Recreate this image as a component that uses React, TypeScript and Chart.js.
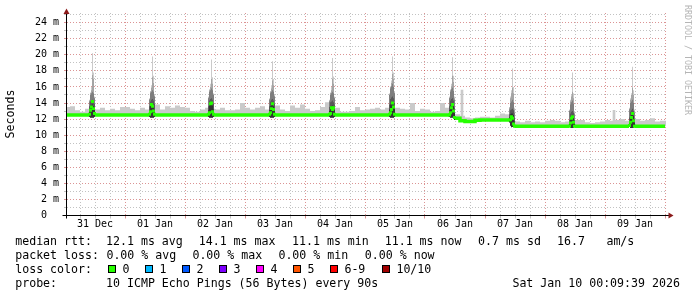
import React, { useEffect, useRef } from 'react';
import { Chart, registerables } from 'chart.js';

Chart.register(...registerables);

// ---------- data (time in hours since 31 Dec 00:00, latency in ms) ----------
const dayLabels = ['31 Dec', '01 Jan', '02 Jan', '03 Jan', '04 Jan', '05 Jan', '06 Jan', '07 Jan', '08 Jan', '09 Jan'];
const xStartHour = 0.8;
const xEndHour = 240.4;
const yMaxMs = 25.2;
const baseStepHours = 2;
const spikeStepHours = 0.4;

// median rtt, one value every 2 hours
const baseMedian = [
  12.5, 12.5, 12.5, 12.5, 12.5, 12.5, 12.5, 12.5, 12.5, 12.5, 12.5, 12.5,
  12.5, 12.5, 12.5, 12.5, 12.5, 12.5, 12.5, 12.5, 12.5, 12.5, 12.5, 12.5,
  12.5, 12.5, 12.5, 12.5, 12.5, 12.5, 12.5, 12.5, 12.5, 12.5, 12.5, 12.5,
  12.5, 12.5, 12.5, 12.5, 12.5, 12.5, 12.5, 12.5, 12.5, 12.5, 12.5, 12.5,
  12.5, 12.5, 12.5, 12.5, 12.5, 12.5, 12.5, 12.5, 12.5, 12.5, 12.5, 12.5,
  12.5, 12.5, 12.5, 12.5, 12.5, 12.5, 12.5, 12.5, 12.5, 12.5, 12.5, 12.5,
  12.5, 12.5, 12.5, 12.5, 12.5, 12.5, 12.1, 11.8, 11.7, 11.7, 11.85, 11.9,
  11.9, 11.9, 11.9, 11.9, 11.9, 11.1, 11.1, 11.1, 11.1, 11.1, 11.1, 11.1,
  11.1, 11.1, 11.1, 11.1, 11.1, 11.1, 11.1, 11.1, 11.1, 11.1, 11.1, 11.1,
  11.1, 11.1, 11.1, 11.1, 11.1, 11.1, 11.1, 11.1, 11.1, 11.1, 11.1, 11.1,
  11.1,
];

// max rtt (outer smoke), one value every 2 hours
const baseMax = [
  13.5, 13.6, 13.1, 12.9, 13.3, 13.2, 13.2, 13.4, 13.1, 13.3, 13.1, 13.5,
  13.5, 13.3, 13.1, 13.4, 13.2, 13.6, 13.8, 13.2, 13.6, 13.4, 13.7, 13.5,
  13.4, 13.0, 12.9, 13.2, 13.4, 13.3, 13.2, 13.4, 13.1, 13.1, 13.2, 14.0,
  13.4, 13.2, 13.4, 13.6, 13.2, 13.3, 13.7, 13.2, 13.0, 13.7, 13.4, 13.8,
  13.3, 13.0, 13.1, 13.5, 14.1, 13.3, 13.4, 12.9, 12.9, 13.0, 13.5, 13.1,
  13.2, 13.3, 13.4, 13.2, 13.4, 13.3, 13.4, 13.3, 13.2, 14.0, 13.0, 13.3,
  13.2, 12.9, 13.0, 14.0, 13.4, 13.0, 12.6, 12.4, 12.2, 12.1, 12.2, 12.3,
  12.3, 12.2, 12.4, 12.7, 12.6, 12.5, 11.7, 11.6, 11.8, 11.6, 11.7, 11.6,
  11.8, 11.9, 11.8, 11.6, 11.7, 11.6, 11.9, 11.9, 11.6, 11.5, 11.6, 11.7,
  11.9, 11.8, 11.9, 12.0, 11.8, 11.9, 12.0, 11.8, 11.9, 12.1, 11.7, 11.8,
  11.8,
];

// daily latency spikes (sampled every 0.4 h starting at spikeStart)
const spikeStart = [9.6, 33.6, 57.2, 81.6, 105.6, 129.6, 153.6, 177.6, 201.6, 225.6];
const spikeMax = [
  [14.4, 15.3, 16.0, 20.2, 17.8, 14.8],
  [14.6, 15.5, 16.2, 19.8, 17.4, 15.0],
  [14.8, 15.7, 16.4, 19.4, 17.2, 15.2],
  [14.6, 15.5, 16.2, 19.2, 17.0, 15.0],
  [14.4, 15.3, 16.0, 19.6, 17.3, 14.8],
  [15.2, 16.1, 16.8, 19.8, 17.8, 15.4],
  [14.8, 15.7, 16.4, 19.7, 17.4, 14.8],
  [13.5, 14.8, 15.6, 18.3, 16.0, 13.4],
  [13.2, 14.4, 15.0, 17.8, 15.2, 13.0],
  [13.4, 14.6, 15.2, 18.5, 15.6, 13.2],
];
const spikeP9 = [
  [14.3, 15.2, 15.6, 17.5, 17.0, 14.7],
  [14.5, 15.4, 15.9, 17.2, 16.5, 14.9],
  [14.7, 15.6, 16.0, 17.0, 16.4, 15.1],
  [14.5, 15.4, 15.8, 16.8, 16.2, 14.9],
  [14.3, 15.2, 15.6, 17.0, 16.4, 14.7],
  [15.1, 16.0, 16.5, 17.6, 17.0, 15.3],
  [14.7, 15.6, 16.1, 17.4, 16.6, 14.6],
  [13.4, 14.6, 15.2, 15.9, 15.2, 13.2],
  [13.1, 14.2, 14.8, 15.4, 14.6, 12.8],
  [13.3, 14.4, 15.0, 15.9, 15.0, 13.0],
];
const spikeP8 = [
  [14.2, 15.0, 15.2, 15.4, 15.2, 14.6],
  [14.4, 15.2, 15.4, 15.6, 15.4, 14.8],
  [14.6, 15.4, 15.6, 15.8, 15.6, 15.0],
  [14.4, 15.2, 15.4, 15.6, 15.4, 14.8],
  [14.2, 15.0, 15.2, 15.4, 15.2, 14.6],
  [15.0, 15.8, 16.1, 16.4, 16.0, 15.2],
  [14.6, 15.4, 15.7, 15.9, 15.5, 14.4],
  [13.2, 14.0, 14.2, 14.4, 14.1, 12.8],
  [13.0, 13.8, 14.1, 14.3, 13.9, 12.6],
  [13.2, 14.0, 14.2, 14.4, 14.0, 12.8],
];
const spikeP7 = [
  [13.6, 14.2, 14.3, 14.4, 14.3, 13.9],
  [13.6, 14.2, 14.4, 14.5, 14.3, 13.9],
  [13.6, 14.3, 14.5, 14.6, 14.4, 13.9],
  [13.6, 14.2, 14.4, 14.5, 14.3, 13.9],
  [13.5, 14.1, 14.2, 14.3, 14.1, 13.8],
  [13.8, 14.5, 14.7, 14.8, 14.6, 14.0],
  [13.6, 14.3, 14.5, 14.6, 14.3, 13.4],
  [12.6, 13.1, 13.2, 13.3, 13.1, 12.2],
  [11.9, 12.7, 12.9, 13.0, 12.8, 11.9],
  [12.2, 12.9, 13.1, 13.3, 13.0, 12.0],
];
const spikeP6 = [
  [13.1, 13.6, 13.7, 13.8, 13.6, 13.2],
  [13.1, 13.6, 13.8, 13.9, 13.6, 13.2],
  [13.1, 13.7, 13.9, 14.0, 13.7, 13.2],
  [13.1, 13.6, 13.8, 13.9, 13.6, 13.2],
  [13.0, 13.5, 13.6, 13.7, 13.5, 13.1],
  [13.2, 13.8, 14.0, 14.1, 13.8, 13.3],
  [13.1, 13.7, 13.9, 14.0, 13.6, 12.8],
  [12.2, 12.6, 12.7, 12.7, 12.5, 11.7],
  [11.6, 12.2, 12.4, 12.5, 12.2, 11.5],
  [11.7, 12.3, 12.6, 12.7, 12.4, 11.6],
];
const spikeLow = [
  [12.3, 12.2, 12.2, 12.2, 12.2, 12.3],
  [12.3, 12.2, 12.2, 12.2, 12.2, 12.3],
  [12.3, 12.2, 12.2, 12.2, 12.2, 12.3],
  [12.3, 12.2, 12.2, 12.2, 12.2, 12.3],
  [12.3, 12.2, 12.2, 12.2, 12.2, 12.3],
  [12.3, 12.2, 12.2, 12.2, 12.2, 12.3],
  [12.3, 12.2, 12.2, 12.2, 12.1, 11.9],
  [11.6, 11.2, 11.0, 11.0, 11.0, 11.0],
  [11.0, 10.9, 10.9, 10.9, 10.9, 11.0],
  [11.0, 10.9, 10.9, 10.9, 10.9, 11.0],
];
const spikeMed = [
  [12.6, 13.1, 13.5, 14.2, 13.3, 12.7],
  [12.6, 12.9, 13.8, 13.6, 13.0, 12.6],
  [12.6, 12.8, 13.9, 14.0, 12.9, 12.6],
  [12.6, 12.8, 13.3, 13.9, 13.2, 12.6],
  [12.6, 12.7, 13.4, 13.2, 13.4, 12.6],
  [12.6, 12.8, 13.2, 14.0, 13.5, 12.6],
  [12.5, 12.8, 13.4, 13.8, 13.0, 12.2],
  [11.9, 11.9, 12.3, 12.1, 11.4, 11.1],
  [11.1, 11.5, 12.1, 12.3, 11.6, 11.1],
  [11.2, 11.6, 12.2, 12.7, 11.8, 11.1],
];

// isolated single-sample peaks
const thinPeakHour = [158.8, 219.6];
const thinPeakLow = [11.9, 11.1];
const thinPeakHigh = [15.6, 13.1];

// legend content
const lossColors = ['#26ff00', '#00b8ff', '#0059ff', '#7e00ff', '#ff00ff', '#ff5500', '#ff0000', '#a10000'];
const lossLabels = ['0', '1', '2', '3', '4', '5', '6-9', '10/10'];
const rttStats = ['12.1 ms avg', '14.1 ms max', '11.1 ms min', '11.1 ms now', '0.7 ms sd', '16.7', 'am/s'];
const lossStats = ['0.00 % avg', '0.00 % max', '0.00 % min', '0.00 % now'];
const probeText = '10 ICMP Echo Pings (56 Bytes) every 90s';
const stampText = 'Sat Jan 10 00:09:39 2026';

// ---------- styles / layout ----------
const smokeGrays = ['#cacaca', '#a4a4a4', '#7e7e7e', '#585858', '#323232'];
const MEDIAN_COLOR = '#26ff00';
const MAJOR_GRID = 'rgba(190,60,60,0.55)';
const MINOR_GRID = 'rgba(120,120,120,0.45)';
const MONO = '"DejaVu Sans Mono", monospace';

function stepPoints(values: number[], t0: number, dt: number) {
  const pts = values.map((v, i) => ({ x: t0 + i * dt, y: v }));
  pts.push({ x: t0 + values.length * dt, y: values[values.length - 1] });
  return pts;
}

function buildDatasets() {
  const ds: any[] = [];
  const lineBase = { type: 'line', stepped: true, pointRadius: 0, borderWidth: 0, tension: 0 };
  const baseMedIdx = ds.length;
  ds.push({ ...lineBase, data: stepPoints(baseMedian, 0, baseStepHours), fill: false });
  ds.push({ ...lineBase, data: stepPoints(baseMax, 0, baseStepHours), fill: { target: baseMedIdx }, backgroundColor: smokeGrays[0] });
  ds.push({
    type: 'bar',
    data: thinPeakHour.map((t, i) => ({ x: t, y: [thinPeakLow[i], thinPeakHigh[i]] })),
    backgroundColor: smokeGrays[0],
    barThickness: 2,
    borderWidth: 0,
  });
  const bands = [spikeMax, spikeP9, spikeP8, spikeP7, spikeP6];
  spikeStart.forEach((s, k) => {
    const lowIdx = ds.length;
    ds.push({ ...lineBase, data: stepPoints(spikeLow[k], s, spikeStepHours), fill: false });
    bands.forEach((band, b) => {
      ds.push({ ...lineBase, data: stepPoints(band[k], s, spikeStepHours), fill: { target: lowIdx }, backgroundColor: smokeGrays[b] });
    });
  });
  // baseline median line, interrupted where the spike samples take over
  const spikeLen = spikeStepHours * 6;
  const inSpike = (t: number) => spikeStart.some((s) => t >= s && t < s + spikeLen);
  const med: { x: number; y: number | null }[] = [];
  baseMedian.forEach((v, j) => {
    const t = j * baseStepHours;
    if (!inSpike(t)) med.push({ x: t, y: v });
  });
  spikeStart.forEach((s) => {
    const tEnd = s + spikeLen;
    med.push({ x: s, y: baseMedian[Math.floor(s / baseStepHours)] });
    med.push({ x: s + 0.001, y: null });
    med.push({ x: tEnd, y: baseMedian[Math.floor(tEnd / baseStepHours)] });
  });
  med.sort((a, b) => a.x - b.x);
  ds.push({ ...lineBase, data: med, borderWidth: 3.5, borderColor: MEDIAN_COLOR, fill: false, spanGaps: false, borderJoinStyle: 'miter', borderCapStyle: 'butt' });
  // median samples inside the spikes
  const spikeMedPts: { x: number; y: number }[] = [];
  spikeStart.forEach((s, k) => {
    spikeMed[k].forEach((v, i) => spikeMedPts.push({ x: s + (i + 0.5) * spikeStepHours, y: v }));
  });
  ds.push({
    type: 'line', showLine: false, data: spikeMedPts, pointStyle: 'rect', pointRadius: 2.1,
    pointBorderWidth: 0, pointBackgroundColor: MEDIAN_COLOR, pointBorderColor: MEDIAN_COLOR, fill: false,
  });
  const n = ds.length;
  ds.forEach((d, i) => { d.order = n - i; });
  return ds;
}

const gridColorFor = (step: number, major: number) => (c: any) => {
  const v = c.tick ? c.tick.value : NaN;
  const r = Math.round(v);
  if (!isFinite(v) || Math.abs(v - r) > 0.01) return 'transparent';
  if (r % major === 0) return MAJOR_GRID;
  if (r % step === 0) return MINOR_GRID;
  return 'transparent';
};

const overlay = {
  id: 'rrdOverlay',
  afterDraw(chart: any) {
    const { ctx, chartArea: a } = chart;
    ctx.save();
    ctx.setLineDash([]);
    const ax = Math.floor(a.left) - 0.5;
    const ay = Math.floor(a.bottom) + 0.5;
    // axes
    ctx.strokeStyle = '#000';
    ctx.lineWidth = 1;
    ctx.beginPath();
    ctx.moveTo(ax - 4, ay);
    ctx.lineTo(a.right + 3, ay);
    ctx.moveTo(ax, ay + 3);
    ctx.lineTo(ax, a.top - 1);
    ctx.stroke();
    // arrows
    ctx.fillStyle = '#8b1a1a';
    ctx.beginPath();
    ctx.moveTo(ax, a.top - 4.5);
    ctx.lineTo(ax - 3, a.top + 1);
    ctx.lineTo(ax + 3, a.top + 1);
    ctx.closePath();
    ctx.fill();
    ctx.beginPath();
    ctx.moveTo(a.right + 7.5, ay);
    ctx.lineTo(a.right + 2.5, ay - 3);
    ctx.lineTo(a.right + 2.5, ay + 3);
    ctx.closePath();
    ctx.fill();

    // unit label
    ctx.fillStyle = '#000';
    ctx.save();
    ctx.translate(14, 114);
    ctx.rotate(-Math.PI / 2);
    ctx.font = `11.6px ${MONO}`;
    ctx.textAlign = 'center';
    ctx.textBaseline = 'alphabetic';
    ctx.fillText('Seconds', 0, 0);
    ctx.restore();

    // watermark
    ctx.save();
    ctx.translate(685, 60);
    ctx.rotate(Math.PI / 2);
    ctx.font = `8.3px ${MONO}`;
    ctx.fillStyle = '#b5b5b5';
    ctx.textAlign = 'center';
    ctx.textBaseline = 'alphabetic';
    ctx.fillText('RRDTOOL / TOBI OETIKER', 0, 0);
    ctx.restore();

    // legend
    ctx.font = `11.6px ${MONO}`;
    ctx.textAlign = 'left';
    ctx.textBaseline = 'alphabetic';
    ctx.fillStyle = '#000';
    const rttX = [106, 198.7, 292, 384.7, 478.1, 557, 606.4];
    const lossX = [106.4, 192.4, 278.4, 364.8];
    ctx.fillText('median rtt:', 15.2, 245);
    rttStats.forEach((s, i) => ctx.fillText(s, rttX[i], 245));
    ctx.fillText('packet loss:', 15.2, 258.8);
    lossStats.forEach((s, i) => ctx.fillText(s, lossX[i], 258.8));
    ctx.fillText('loss color:', 15.2, 272.7);
    const boxX = [108, 145, 182, 219, 256, 293, 330, 382];
    lossColors.forEach((col, i) => {
      ctx.fillStyle = col;
      ctx.fillRect(boxX[i], 265, 8, 8);
      ctx.strokeStyle = '#000';
      ctx.strokeRect(boxX[i] + 0.5, 265.5, 7, 7);
      ctx.fillStyle = '#000';
      ctx.fillText(lossLabels[i], boxX[i] + 14.4, 272.7);
    });
    ctx.fillText('probe:', 15.2, 286.7);
    ctx.fillText(probeText, 106, 286.7);
    ctx.fillText(stampText, 512.4, 286.7);
    ctx.restore();
  },
};

export default function App() {
  const ref = useRef<HTMLCanvasElement | null>(null);
  useEffect(() => {
    if (!ref.current) return;
    const tickFont = { family: MONO, size: 10 };
    const chart = new Chart(ref.current, {
      type: 'line',
      data: { datasets: buildDatasets() },
      options: {
        responsive: false,
        animation: false,
        devicePixelRatio: 1,
        events: [],
        layout: { padding: { top: 13, right: 31, left: 0, bottom: 0 } },
        plugins: { legend: { display: false }, tooltip: { enabled: false }, title: { display: false } },
        scales: {
          x: {
            type: 'linear',
            min: xStartHour,
            max: xEndHour,
            offset: false,
            afterFit: (s: any) => { s.height = 81.5; },
            afterBuildTicks: (s: any) => {
              const t: any[] = [];
              for (let h = Math.ceil(s.min / 6) * 6; h <= s.max; h += 6) t.push({ value: h });
              s.ticks = t;
            },
            grid: { color: gridColorFor(6, 24), lineWidth: 1, drawTicks: true, tickLength: 3, offset: false },
            border: { display: false, dash: [1, 2] },
            ticks: {
              autoSkip: false,
              maxRotation: 0,
              minRotation: 0,
              padding: 0,
              font: tickFont,
              color: '#000',
              callback: (v: any) => {
                const h = Math.round(Number(v));
                return h % 24 === 12 ? dayLabels[(h - 12) / 24] ?? '' : '';
              },
            },
          },
          y: {
            type: 'linear',
            min: 0,
            max: yMaxMs,
            afterFit: (s: any) => { s.width = 67; },
            afterBuildTicks: (s: any) => {
              const t: any[] = [];
              for (let v = 0; v <= s.max; v += 1) t.push({ value: v });
              s.ticks = t;
            },
            grid: { color: gridColorFor(1, 2), lineWidth: 1, drawTicks: true, tickLength: 3 },
            border: { display: false, dash: [1, 2] },
            ticks: {
              autoSkip: false,
              padding: 5,
              font: tickFont,
              color: '#000',
              callback: (v: any) => {
                const n = Math.round(Number(v));
                if (n % 2 !== 0) return '';
                return n === 0 ? '0  ' : `${n} m`;
              },
            },
          },
        },
      } as any,
      plugins: [overlay],
    } as any);
    return () => chart.destroy();
  }, []);
  return (
    <div style={{ position: 'absolute', left: 0, top: 0, width: 697, height: 297, background: '#fff' }}>
      <canvas ref={ref} width={697} height={297} style={{ display: 'block' }} />
    </div>
  );
}
